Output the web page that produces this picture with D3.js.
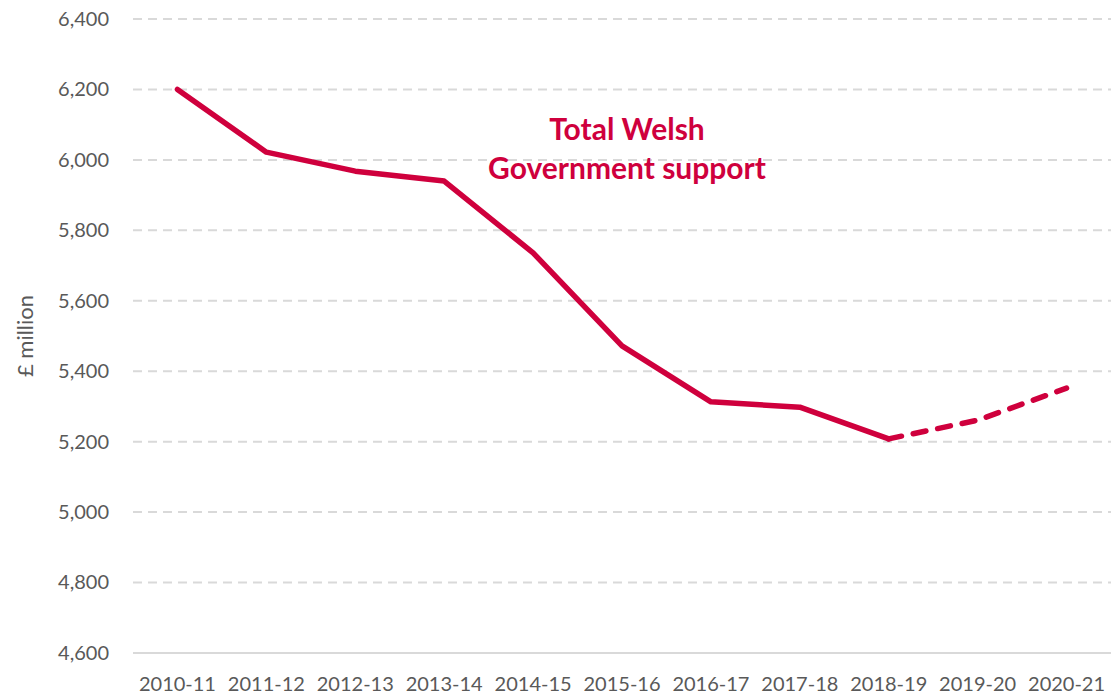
<!DOCTYPE html>
<html lang="en">
<head>
    <meta charset="UTF-8">
    <title>Total Welsh Government support</title>
    <script src="https://d3js.org/d3.v7.min.js"></script>
    <style>
        body { margin: 0; background: #fff; font-family: Lato, "Open Sans", sans-serif; }
        svg { display: block; }
        .tick text { fill: #595959; font-size: 20px; font-family: Lato, "Open Sans", sans-serif; }
    </style>
</head>
<body>
    <div id="chart"></div>
    <script>
        // data
        const years = ["2010-11", "2011-12", "2012-13", "2013-14", "2014-15", "2015-16",
                       "2016-17", "2017-18", "2018-19", "2019-20", "2020-21"];
        const support = [6200, 6022, 5968, 5940, 5736, 5472, 5313, 5298, 5208, 5261, 5352];
        const yTicks = [4600, 4800, 5000, 5200, 5400, 5600, 5800, 6000, 6200, 6400];
        const lastActual = "2018-19"; // after this the line is dashed (forecast)

        const width = 1111, height = 697;
        const margin = { top: 19, right: 0, bottom: 44, left: 133 };
        const red = "#CF003D";

        const svg = d3.select("#chart").append("svg")
            .attr("width", width).attr("height", height);

        const x = d3.scaleBand()
            .domain(years)
            .range([margin.left, width - margin.right]);

        const y = d3.scaleLinear()
            .domain([4600, 6400])
            .range([height - margin.bottom, margin.top]);

        // gridlines
        svg.append("g")
            .selectAll("line")
            .data(yTicks)
            .enter().append("line")
            .attr("x1", margin.left).attr("x2", width - margin.right)
            .attr("y1", d => y(d)).attr("y2", d => y(d))
            .attr("stroke", "#d9d9d9")
            .attr("stroke-width", 2)
            .attr("stroke-dasharray", d => d === 4600 ? null : "9,6");

        // y axis labels
        svg.append("g")
            .attr("transform", `translate(${margin.left - 24},0)`)
            .call(d3.axisLeft(y).tickValues(yTicks).tickSize(0).tickPadding(0).tickFormat(d3.format(",")))
            .call(g => g.select(".domain").remove());

        // x axis labels
        svg.append("g")
            .attr("transform", `translate(0,${height - margin.bottom})`)
            .call(d3.axisBottom(x).tickSize(0).tickPadding(24))
            .call(g => g.select(".domain").remove());

        svg.append("text")
            .attr("transform", `translate(33,${(y(4600) + y(6400)) / 2}) rotate(-90)`)
            .attr("text-anchor", "middle")
            .attr("fill", "#595959")
            .attr("font-size", 22)
            .text("£ million");

        const points = years.map((yr, i) => ({ year: yr, value: support[i] }));
        const cut = years.indexOf(lastActual);

        const line = d3.line()
            .x(d => x(d.year) + x.bandwidth() / 2)
            .y(d => y(d.value));

        svg.append("path")
            .datum(points.slice(0, cut + 1))
            .attr("fill", "none")
            .attr("stroke", red)
            .attr("stroke-width", 5.5)
            .attr("stroke-linecap", "round")
            .attr("stroke-linejoin", "round")
            .attr("d", line);

        svg.append("path")
            .datum(points.slice(cut))
            .attr("fill", "none")
            .attr("stroke", red)
            .attr("stroke-width", 5.5)
            .attr("stroke-linecap", "round")
            .attr("stroke-dasharray", "13,12")
            .attr("d", line);

        const label = svg.append("text")
            .attr("text-anchor", "middle")
            .attr("fill", red)
            .attr("font-size", 30)
            .attr("font-weight", "bold");
        label.append("tspan").attr("x", 627).attr("y", 140).text("Total Welsh");
        label.append("tspan").attr("x", 627).attr("y", 179).text("Government support");
    </script>
</body>
</html>
